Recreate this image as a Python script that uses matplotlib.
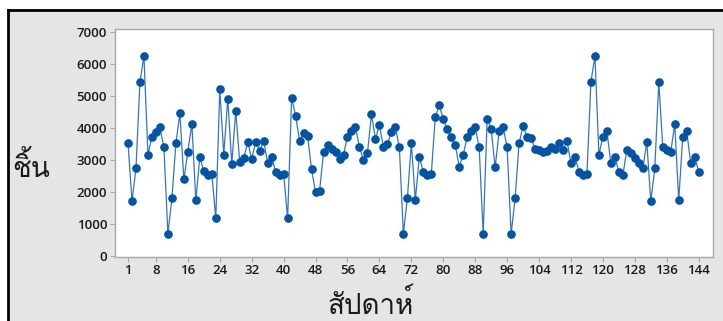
import matplotlib
matplotlib.use('Agg')
import matplotlib.pyplot as plt
from matplotlib.patches import Rectangle
from matplotlib.lines import Line2D

# weekly pieces (ชิ้น), weeks 1..144
weeks = list(range(1, 145))
pieces = [
    3550, 1710, 2740, 5450, 6250, 3170, 3730, 3890, 4020, 3400,
    690, 1800, 3520, 4460, 2400, 3260, 4130, 1740, 3100, 2650,
    2530, 2570, 1180, 5220, 3170, 4920, 2880, 4530, 2930, 3070,
    3560, 3040, 3560, 3300, 3600, 2910, 3100, 2640, 2530, 2570,
    1180, 4950, 4390, 3600, 3850, 3760, 2710, 1990, 2020, 3260,
    3480, 3360, 3260, 3040, 3170, 3730, 3900, 4020, 3400, 3000,
    3210, 4430, 3670, 4090, 3420, 3500, 3890, 4020, 3400, 690,
    1800, 3530, 1750, 3100, 2640, 2530, 2570, 4350, 4720, 4280,
    3960, 3730, 3470, 2800, 3170, 3730, 3900, 4020, 3400, 690,
    4290, 3970, 2770, 3900, 4020, 3400, 690, 1800, 3530, 4060,
    3730, 3680, 3360, 3310, 3260, 3280, 3410, 3360, 3550, 3310,
    3600, 2900, 3100, 2640, 2530, 2570, 5450, 6250, 3170, 3730,
    3900, 2900, 3100, 2640, 2530, 3330, 3230, 3070, 2910, 2740,
    3560, 1710, 2740, 5450, 3400, 3320, 3260, 4130, 1740, 3730,
    3900, 2900, 3100, 2640,
]
xticks = [1, 8, 16, 24, 32, 40, 48, 56, 64, 72, 80, 88, 96, 104, 112, 120, 128, 136, 144]
yticks = [0, 1000, 2000, 3000, 4000, 5000, 6000, 7000]

W, H = 723, 321
fig = plt.figure(figsize=(W / 100, H / 100), dpi=100, facecolor='white')

# grey panel with black top/left edge
fig.patches.append(Rectangle((7.5 / W, 0), 1, 1 - 9.5 / H, transform=fig.transFigure,
                             facecolor='#e5e5e5', edgecolor='none', zorder=-10))
fig.lines.append(Line2D([7.5 / W, 1], [1 - 9.5 / H, 1 - 9.5 / H], transform=fig.transFigure,
                        color='black', lw=2, zorder=-5))
fig.lines.append(Line2D([7.5 / W, 7.5 / W], [0, 1 - 9.5 / H], transform=fig.transFigure,
                        color='black', lw=2, zorder=-5))

ax = fig.add_axes([114.7 / W, 1 - 256.7 / H, (713.3 - 114.7) / W, (256.7 - 29.3) / H])
ax.set_facecolor('white')
ax.plot(weeks, pieces, color='#3575c0', lw=0.9, marker='o', markersize=5.2,
        markerfacecolor='#0054a6', markeredgecolor='#0054a6', zorder=3)

ax.set_xlim(-2.33, 147.66)
ax.set_ylim(-20, 7090)
ax.set_xticks(xticks)
ax.set_yticks(yticks)
for s in ax.spines.values():
    s.set_color('#a8a8a8')
    s.set_linewidth(1.0)
ax.tick_params(axis='both', direction='out', length=3.5, width=0.8, color='#a8a8a8',
               labelcolor='#1a1a1a', pad=2)
for lab in ax.get_xticklabels() + ax.get_yticklabels():
    lab.set_family(['Open Sans', 'DejaVu Sans'])
    lab.set_fontweight('semibold')
    lab.set_fontsize(9.5)

# Loma keeps the tone mark above the upper vowel without text shaping
thai = dict(fontsize=20, family=['Loma', 'Noto Sans Thai Looped', 'DejaVu Sans'], color='#1a1a1a')
fig.text(371 / W, 1 - 314 / H, 'สัปดาห์', ha='center', va='baseline', **thai)
fig.text(31 / W, 1 - 177 / H, 'ชิ้น', ha='center', va='baseline', **thai)

fig.savefig('out.png', dpi=100, facecolor='white')
